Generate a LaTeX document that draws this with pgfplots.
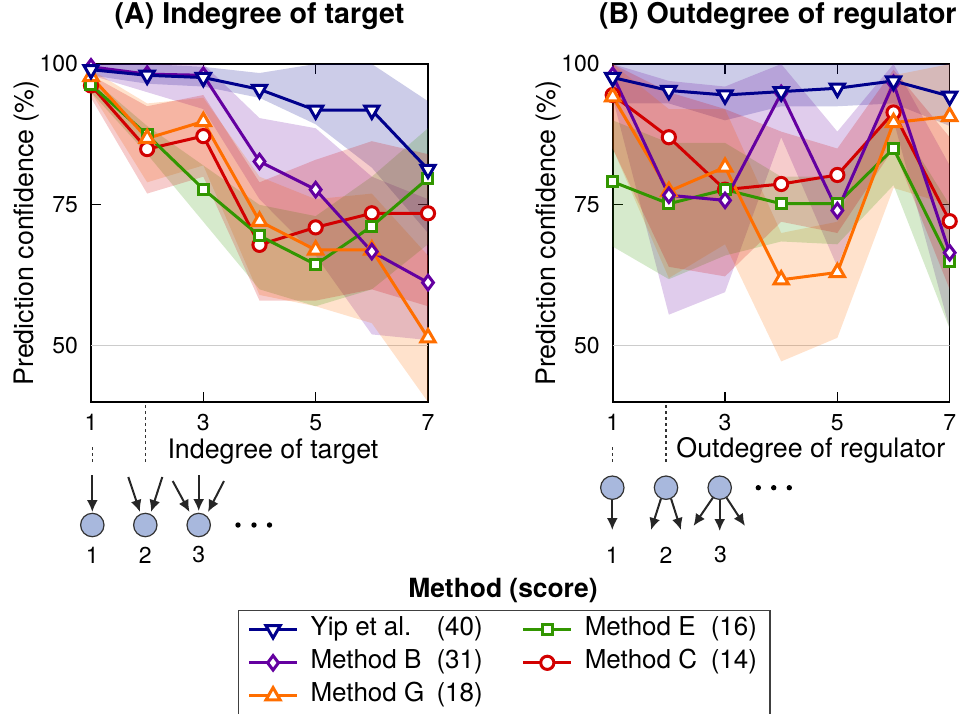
\documentclass[border=0pt]{standalone}
\usepackage{fontspec}
\setmainfont{TeX Gyre Heros}
\usepackage{pgfplots}
\pgfplotsset{compat=1.18}
\usetikzlibrary{arrows.meta}

\definecolor{cYip}{RGB}{0,0,140}
\definecolor{cB}{RGB}{100,0,160}
\definecolor{cG}{RGB}{255,110,0}
\definecolor{cE}{RGB}{50,150,0}
\definecolor{cC}{RGB}{210,0,0}
\definecolor{nodefill}{RGB}{168,184,221}

\newcommand\ticksize{\fontsize{11.5}{13}\selectfont}
\newcommand\labsize{\fontsize{13.4}{16}\selectfont}

\pgfplotsset{
  sYip/.style={cYip, line width=1.5pt, mark=triangle*, mark size=4.1pt,
    mark options={rotate=180, fill=white, solid}},
  sB/.style={cB, line width=1.5pt, mark=diamond*, mark size=3.6pt,
    mark options={fill=white, solid}},
  sG/.style={cG, line width=1.5pt, mark=triangle*, mark size=4.1pt,
    mark options={fill=white, solid}},
  sE/.style={cE, line width=1.5pt, mark=square*, mark size=2.5pt,
    mark options={fill=white, solid}},
  sC/.style={cC, line width=1.5pt, mark=*, mark size=3.3pt,
    mark options={fill=white, solid}},
  band/.style={draw=none, fill=#1, fill opacity=0.2, forget plot},
  panel/.style={
    scale only axis, width=168.5pt, height=169pt,
    xmin=1, xmax=7, ymin=40, ymax=100,
    xtick={1,3,5,7}, ytick={50,75,100},
    tick align=inside, major tick length=5pt,
    tick style={black, line width=0.6pt},
    axis line style={black, line width=0.8pt},
    tick label style={font=\ticksize},
    xticklabel style={yshift=-2.5pt},
    yticklabel style={xshift=-3pt},
    /pgf/number format/assume math mode=true,
    label style={font=\labsize},
    ylabel={Prediction confidence (\%)},
    ylabel style={at={(axis description cs:-0.19,0.5)}, anchor=center},
    title style={font=\bfseries\fontsize{14.3}{17}\selectfont,
      at={(axis description cs:0.5,1.107)}, anchor=center},
  },
}

\begin{document}
\begin{tikzpicture}
\useasboundingbox (0,0) rectangle (482pt,-356.5pt);

% ---------------- (A) indegree of target ----------------
\begin{axis}[panel, at={(45.5pt,-201pt)}, anchor=south west,
  title={(A) Indegree of target}, xlabel={Indegree of target},
  xlabel style={at={(axis description cs:0.54,-0.148)}, anchor=center}]
\addplot[black!20, line width=0.6pt, forget plot] coordinates {(1,50) (7,50)};
% spread of each method (upper edge, then lower edge backwards)
\addplot[band=cYip] coordinates {(1,100)(2,100)(3,99.5)(4,98.4)(5,100)(6,100)(7,93.4)
  (7,70)(6,81.6)(5,89.3)(4,94)(3,96)(2,96.5)(1,98)};
\addplot[band=cB] coordinates {(1,100)(2,100)(3,100)(4,90.4)(5,88.6)(6,80)(7,76)
  (7,51)(6,52)(5,66)(4,76)(3,92)(2,95)(1,98)};
\addplot[band=cG] coordinates {(1,99)(2,93)(3,94)(4,80)(5,76)(6,77)(7,66)
  (7,40)(6,54)(5,57)(4,59)(3,82)(2,79)(1,95)};
\addplot[band=cE] coordinates {(1,97.5)(2,89)(3,82)(4,75)(5,73)(6,80)(7,88.6)
  (7,68)(6,60)(5,57)(4,60)(3,72)(2,84)(1,95)};
\addplot[band=cC] coordinates {(1,98)(2,92.5)(3,94.5)(4,79)(5,83)(6,86.3)(7,84)
  (7,57)(6,60)(5,58)(4,58)(3,80)(2,77)(1,94)};
% mean confidence
\addplot[sC] coordinates {(1,96.2)(2,84.9)(3,87.2)(4,67.9)(5,71)(6,73.5)(7,73.5)};
\addplot[sE] coordinates {(1,96.3)(2,87.4)(3,77.8)(4,69.5)(5,64.4)(6,71.2)(7,79.7)};
\addplot[sG] coordinates {(1,97.8)(2,86.8)(3,89.8)(4,72.1)(5,67)(6,67)(7,51.4)};
\addplot[sB] coordinates {(1,99.5)(2,98.2)(3,98)(4,82.7)(5,77.7)(6,66.7)(7,61.2)};
\addplot[sYip] coordinates {(1,99)(2,98)(3,97.6)(4,95.5)(5,91.8)(6,91.8)(7,81.3)};
\end{axis}

% ---------------- (B) outdegree of regulator ----------------
\begin{axis}[panel, at={(306.35pt,-201pt)}, anchor=south west,
  title={(B) Outdegree of regulator}, xlabel={Outdegree of regulator},
  title style={at={(axis description cs:0.49,1.107)}},
  xlabel style={at={(axis description cs:0.588,-0.142)}, anchor=center},
  legend columns=2,
  legend image code/.code={
    \draw[mark repeat=2, mark phase=2] plot coordinates {(0pt,0pt) (12pt,0pt) (24pt,0pt)};
  },
  legend style={
    at={(axis description cs:-1.112,-0.616)}, anchor=north west,
    draw=black!75, line width=0.6pt,
    font=\fontsize{13}{15}\selectfont,
    legend cell align=left,
    inner xsep=4.5pt, inner ysep=3.5pt,
    row sep=4.5pt,
    nodes={inner ysep=0pt, inner xsep=2pt, text height=9pt, text depth=3pt},
    /tikz/every odd column/.append style={column sep=4pt},
    /tikz/every even column/.append style={column sep=17.5pt},
  }]
\addplot[black!20, line width=0.6pt, forget plot] coordinates {(1,50) (7,50)};
\addplot[band=cYip] coordinates {(1,100)(2,100)(3,100)(4,100)(5,100)(6,100)(7,100)
  (7,89)(6,93)(5,92.5)(4,92.5)(3,90)(2,93)(1,93)};
\addplot[band=cB] coordinates {(1,100)(2,97)(3,96)(4,100)(5,88)(6,100)(7,82)
  (7,53)(6,90)(5,64)(4,87)(3,59.5)(2,55.5)(1,94)};
\addplot[band=cG] coordinates {(1,100)(2,92)(3,92)(4,70)(5,72)(6,98)(7,100)
  (7,75)(6,78)(5,51.4)(4,47.2)(3,68)(2,62)(1,85)};
\addplot[band=cE] coordinates {(1,90)(2,86)(3,86)(4,80)(5,80)(6,91)(7,75)
  (7,53)(6,78.5)(5,68)(4,68.5)(3,66)(2,61.8)(1,67.6)};
\addplot[band=cC] coordinates {(1,100)(2,95)(3,92)(4,88)(5,85)(6,99)(7,87)
  (7,60)(6,85)(5,70)(4,72)(3,62.3)(2,64)(1,85)};
\addplot[sC, forget plot] coordinates {(1,94.5)(2,87)(3,77.7)(4,78.7)(5,80.3)(6,91.4)(7,72.1)};
\addplot[sE, forget plot] coordinates {(1,79.1)(2,75.2)(3,77.7)(4,75.2)(5,75.2)(6,85)(7,65)};
\addplot[sG, forget plot] coordinates {(1,94.2)(2,77.4)(3,81.7)(4,61.7)(5,63)(6,89.6)(7,90.7)};
\addplot[sB, forget plot] coordinates {(1,98)(2,76.7)(3,75.8)(4,94.8)(5,74)(6,96.6)(7,66.5)};
\addplot[sYip, forget plot] coordinates {(1,97.6)(2,95.3)(3,94.5)(4,95.1)(5,95.7)(6,97)(7,94.3)};
% legend, two columns filled row by row
\addlegendimage{sYip}\addlegendentry{\makebox[63pt][l]{Yip et al.}(40)}
\addlegendimage{sE}\addlegendentry{\makebox[63pt][l]{Method E}(16)}
\addlegendimage{sB}\addlegendentry{\makebox[63pt][l]{Method B}(31)}
\addlegendimage{sC}\addlegendentry{\makebox[63pt][l]{Method C}(14)}
\addlegendimage{sG}\addlegendentry{\makebox[63pt][l]{Method G}(18)}
\end{axis}

% ---------------- network motifs under the axes ----------------
\begin{scope}[x=0.5pt, y=-0.5pt, line width=1pt]
  \tikzset{dots/.style={black!80, line width=0.6pt, dash pattern=on 1.5pt off 1.5pt},
           arr/.style={-{Latex[length=6pt,width=5.5pt]}, black!85},
           gene/.style={fill=nodefill, draw=black!80, line width=0.6pt}}
  % indegree
  \draw[dots] (92.3,447) -- (92.3,465);
  \draw[dots] (145.3,405) -- (145.3,465);
  \draw[arr] (92.3,475) -- (92.3,512);
  \draw[arr] (128.3,477) -- (140,512);
  \draw[arr] (162.3,477) -- (151,512);
  \draw[arr] (172.7,481) -- (189.5,512);
  \draw[arr] (198.7,475) -- (198.7,511);
  \draw[arr] (224,481) -- (208,512);
  \foreach \x in {92.3,145.3,198.7} \draw[gene] (\x,525) circle[radius=5.85pt];
  \foreach \x in {238,254,269.5} \fill (\x,525) circle[radius=1.35pt];
  \node[font=\ticksize] at (92.3,555) {1};
  \node[font=\ticksize] at (145.3,555) {2};
  \node[font=\ticksize] at (198.7,555) {3};
  % outdegree
  \draw[dots] (612.3,447) -- (612.3,465);
  \draw[dots] (666,405) -- (666,465);
  \draw[arr] (612.3,499.5) -- (612.3,530);
  \draw[arr] (661,498.5) -- (651,530);
  \draw[arr] (671,498.5) -- (681,530);
  \draw[arr] (713,497.5) -- (693.5,526);
  \draw[arr] (719.7,499.5) -- (719.7,531);
  \draw[arr] (726.4,497.5) -- (745,526);
  \foreach \x in {612.3,666,719.7} \draw[gene] (\x,487.7) circle[radius=5.85pt];
  \foreach \x in {758.3,773.7,789.3} \fill (\x,487.7) circle[radius=1.35pt];
  \node[font=\ticksize] at (612.3,555) {1};
  \node[font=\ticksize] at (666,555) {2};
  \node[font=\ticksize] at (720.5,555) {3};
  % legend heading
  \node[font=\bfseries\fontsize{13.2}{15}\selectfont] at (503,591) {Method (score)};
\end{scope}
\end{tikzpicture}
\end{document}
